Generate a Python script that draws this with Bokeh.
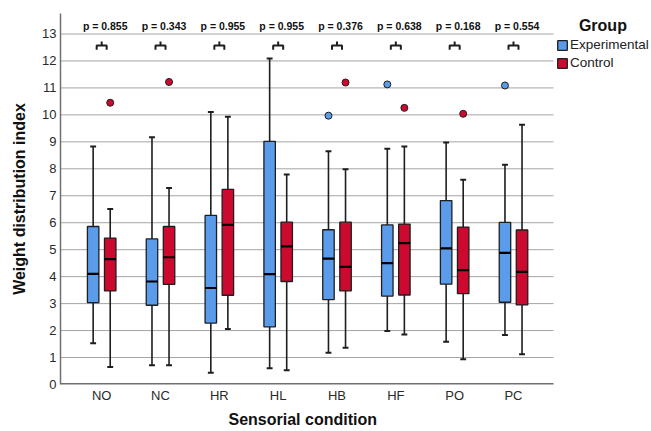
from bokeh.plotting import figure
from bokeh.models import Range1d, FixedTicker, Legend, LegendItem, ColumnDataSource, Label, Title
from bokeh.core.properties import value
from bokeh.embed import file_html
from bokeh.resources import INLINE

categories = ["NO", "NC", "HR", "HL", "HB", "HF", "PO", "PC"]
p_values = ["0.855", "0.343", "0.955", "0.955", "0.376", "0.638", "0.168", "0.554"]

exp_upper = [8.83, 9.17, 10.11, 12.09, 8.65, 8.74, 8.98, 8.15]
exp_q3 = [5.86, 5.40, 6.27, 9.02, 5.74, 5.92, 6.82, 6.01]
exp_med = [4.10, 3.82, 3.58, 4.09, 4.67, 4.50, 5.05, 4.88]
exp_q1 = [3.04, 2.94, 2.28, 2.14, 3.15, 3.28, 3.72, 3.05]
exp_lower = [1.53, 0.71, 0.44, 0.60, 1.18, 1.98, 1.59, 1.84]

ctrl_upper = [6.51, 7.29, 9.93, 7.79, 7.98, 8.83, 7.59, 9.63]
ctrl_q3 = [5.43, 5.86, 7.24, 6.02, 6.02, 5.95, 5.84, 5.73]
ctrl_med = [4.65, 4.72, 5.92, 5.12, 4.36, 5.24, 4.24, 4.18]
ctrl_q1 = [3.47, 3.71, 3.31, 3.82, 3.47, 3.32, 3.37, 2.95]
ctrl_lower = [0.65, 0.71, 2.06, 0.53, 1.36, 1.85, 0.94, 1.12]

exp_out_cat = ["HB", "HF", "PC"]
exp_out_val = [9.97, 11.13, 11.09]
ctrl_out_cat = ["NO", "NC", "HB", "HF", "PO"]
ctrl_out_val = [10.45, 11.22, 11.20, 10.26, 10.04]

y_ticks = list(range(0, 14))

BLUE = "#5a9bea"
RED = "#cc0a2f"
DARK = "#1e1e1e"
FONT = "Liberation Sans"

OFF = 0.145
BW = 0.195
CAP = 0.05
X_LO, X_HI = -0.7, 7.68          # extent of the plotting area
PX_PER_UNIT = 493 / (X_HI - X_LO)
X_FRAME_HI = X_LO + 591 / PX_PER_UNIT   # frame extended to make room for legend

p = figure(width=651, height=431, output_backend="svg", toolbar_location=None,
           x_range=Range1d(X_LO, X_FRAME_HI), y_range=Range1d(0, 13.76),
           min_border_left=60, min_border_right=0, min_border_top=13, min_border_bottom=20)
p.outline_line_color = None
p.background_fill_color = "white"
p.border_fill_color = "white"

idx = {c: i for i, c in enumerate(categories)}
xs = list(range(len(categories)))

# grid (drawn only over the plotting area)
p.xgrid.grid_line_color = None
p.ygrid.grid_line_color = None
p.segment(x0=[X_LO] * len(y_ticks[1:]), y0=y_ticks[1:], x1=[X_HI] * len(y_ticks[1:]), y1=y_ticks[1:],
          line_color="#a4a4a4", line_width=1)
p.segment(x0=[X_LO], y0=[0], x1=[X_HI], y1=[0], line_color="#707070", line_width=3)

# axes
p.xaxis.ticker = FixedTicker(ticks=xs)
p.xaxis.major_label_overrides = {i: c for i, c in enumerate(categories)}
p.yaxis.ticker = FixedTicker(ticks=y_ticks)
for ax in (p.xaxis[0], p.yaxis[0]):
    ax.axis_line_color = "#707070"
    ax.axis_line_width = 1.5
    ax.major_tick_line_color = None
    ax.minor_tick_line_color = None
    ax.major_tick_out = 0
    ax.major_tick_in = 0
    ax.minor_tick_out = 0
    ax.minor_tick_in = 0
    ax.major_label_text_font = FONT
    ax.major_label_text_font_size = "13px"
    ax.major_label_text_color = "#2a2a2a"
    ax.axis_label_text_font = FONT
    ax.axis_label_text_font_size = "16px"
    ax.axis_label_text_font_style = "bold"
    ax.axis_label_text_color = "#111111"
p.xaxis.axis_line_color = None
p.yaxis.axis_label = "Weight distribution index"
p.xaxis.major_label_standoff = 3
p.yaxis.major_label_standoff = 4
p.yaxis.axis_label_standoff = 11

p.add_layout(Title(text="Sensorial condition", align="left", offset=168, standoff=7,
                   text_font=FONT, text_font_size="16px", text_font_style="bold",
                   text_color="#111111"), "below")


def draw(group_off, upper, q3, med, q1, lower, color):
    x = [i + group_off for i in xs]
    src = ColumnDataSource(dict(x=x, xl=[v - CAP for v in x], xr=[v + CAP for v in x],
                                bl=[v - BW / 2 for v in x], br=[v + BW / 2 for v in x],
                                upper=upper, q3=q3, med=med, q1=q1, lower=lower))
    p.segment(x0="x", y0="q3", x1="x", y1="upper", source=src, line_color=DARK, line_width=1.6)
    p.segment(x0="x", y0="lower", x1="x", y1="q1", source=src, line_color=DARK, line_width=1.6)
    p.segment(x0="xl", y0="upper", x1="xr", y1="upper", source=src, line_color=DARK, line_width=2)
    p.segment(x0="xl", y0="lower", x1="xr", y1="lower", source=src, line_color=DARK, line_width=2)
    r = p.vbar(x="x", bottom="q1", top="q3", width=BW, source=src,
               fill_color=color, line_color=DARK, line_width=1.3)
    p.segment(x0="bl", y0="med", x1="br", y1="med", source=src, line_color="black", line_width=2.2)
    return r


r_exp = draw(-OFF, exp_upper, exp_q3, exp_med, exp_q1, exp_lower, BLUE)
r_ctrl = draw(OFF, ctrl_upper, ctrl_q3, ctrl_med, ctrl_q1, ctrl_lower, RED)

p.scatter(x=[idx[c] - OFF for c in exp_out_cat], y=exp_out_val, size=7,
          fill_color=BLUE, line_color=DARK, line_width=1)
p.scatter(x=[idx[c] + OFF for c in ctrl_out_cat], y=ctrl_out_val, size=7,
          fill_color=RED, line_color=DARK, line_width=1)

# p-value labels and brackets
p.text(x=[i + 0.06 for i in xs], y=[13.28] * len(xs), text=["p = " + v for v in p_values],
       text_font=value(FONT), text_font_size="10.5px", text_font_style="bold",
       text_align="center", text_baseline="middle", text_color="#111111")
bx, by = [], []
for i in xs:
    bx.append([i - 0.085, i - 0.085, i, i, i, i + 0.085, i + 0.085])
    by.append([12.42, 12.57, 12.57, 12.72, 12.57, 12.57, 12.42])
p.multi_line(xs=bx, ys=by, line_color=DARK, line_width=2)

legend = Legend(items=[LegendItem(label="Experimental", renderers=[r_exp]),
                       LegendItem(label="Control", renderers=[r_ctrl])],
                location=(496, 314), padding=0, margin=0, spacing=3,
                glyph_width=12, glyph_height=12, label_height=14, label_standoff=2,
                label_text_font=FONT, label_text_font_size="13.5px", label_text_color="#222222",
                background_fill_alpha=0, border_line_color=None)
p.add_layout(legend, "center")

p.add_layout(Label(x=8.52, y=13.32, text="Group", text_font=FONT, text_font_size="16px",
                   text_font_style="bold", text_align="center", text_baseline="middle",
                   text_color="#111111"))

open("out.html", "w").write(file_html(p, INLINE))
